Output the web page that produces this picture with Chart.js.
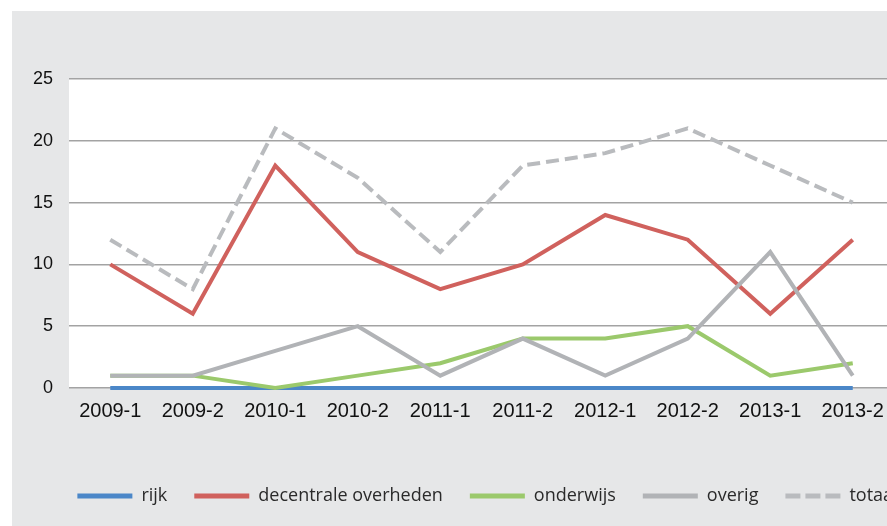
<!DOCTYPE html>
<html>
<head>
<meta charset="utf-8">
<script src="https://cdn.jsdelivr.net/npm/chart.js@4/dist/chart.umd.min.js"></script>
<style>
  body { margin: 0; background: #fff; overflow: hidden; }
  #wrap { position: absolute; left: 12px; top: 11px; width: 950px; height: 520px; background: #e6e7e8; }
  canvas { display: block; }
</style>
</head>
<body>
<div id="wrap"><canvas id="grafiek" width="950" height="515"></canvas></div>
<script>
const categories = ['2009-1', '2009-2', '2010-1', '2010-2', '2011-1', '2011-2', '2012-1', '2012-2', '2013-1', '2013-2'];
const rijk = [0, 0, 0, 0, 0, 0, 0, 0, 0, 0];
const decentraleOverheden = [10, 6, 18, 11, 8, 10, 14, 12, 6, 12];
const onderwijs = [1, 1, 0, 1, 2, 4, 4, 5, 1, 2];
const overig = [1, 1, 3, 5, 1, 4, 1, 4, 11, 1];
const totaal = [12, 8, 21, 17, 11, 18, 19, 21, 18, 15];
const yTicks = [0, 5, 10, 15, 20, 25];

// witte achtergrond voor het plotgebied
const plotBackground = {
    id: 'plotBackground',
    beforeDraw(chart) {
        const { ctx, chartArea } = chart;
        ctx.save();
        ctx.fillStyle = '#ffffff';
        ctx.fillRect(chartArea.left, chartArea.top, chartArea.right - chartArea.left, chartArea.bottom - chartArea.top);
        ctx.restore();
    }
};

// legenda iets naar rechts, zoals in het origineel
const legendShift = {
    id: 'legendShift',
    afterLayout(chart) {
        chart.legend.left += 32;
        chart.legend.right += 32;
    }
};

const line = (label, data, color, order, dash) => ({
    label, data, order,
    borderColor: color,
    backgroundColor: color,
    borderWidth: 4,
    borderDash: dash || [],
    pointRadius: 0,
    tension: 0,
    fill: false,
    clip: false
});

new Chart(document.getElementById('grafiek'), {
    type: 'line',
    data: {
        labels: categories,
        datasets: [
            line('rijk', rijk, '#4b87c8', 5),
            line('decentrale overheden', decentraleOverheden, '#d0615d', 4),
            line('onderwijs', onderwijs, '#9bc96c', 3),
            line('overig', overig, '#b1b3b6', 2),
            line('totaal', totaal, '#b9bbbe', 1, [13, 6])
        ]
    },
    options: {
        responsive: false,
        animation: false,
        layout: { padding: { top: 68, left: 5, right: 68, bottom: 11 } },
        plugins: {
            tooltip: { enabled: false },
            legend: {
                position: 'bottom',
                labels: {
                    usePointStyle: true,
                    pointStyle: 'line',
                    pointStyleWidth: 55,
                    boxHeight: 18,
                    padding: 27,
                    color: '#2a2a2a',
                    font: { family: "'Open Sans', sans-serif", size: 18 },
                    sort: (a, b) => a.datasetIndex - b.datasetIndex,
                    generateLabels(chart) {
                        const items = Chart.defaults.plugins.legend.labels.generateLabels(chart);
                        items.forEach(item => {
                            const ds = chart.data.datasets[item.datasetIndex];
                            item.lineWidth = 5;
                            item.lineDash = ds.borderDash.length ? [15, 5] : [];
                        });
                        return items;
                    }
                }
            }
        },
        scales: {
            x: {
                offset: true,
                grid: { display: false, drawTicks: false },
                border: { display: false },
                ticks: {
                    padding: 11,
                    color: '#111',
                    maxRotation: 0,
                    font: { family: "'Liberation Sans', Arial, sans-serif", size: 20 }
                },
                afterFit(scale) { scale.height += 26; }
            },
            y: {
                min: 0,
                max: 25,
                afterBuildTicks(scale) { scale.ticks = yTicks.map(v => ({ value: v })); },
                grid: { color: '#a3a3a3', lineWidth: 1.5, drawTicks: false },
                border: { display: false },
                ticks: {
                    padding: 16,
                    color: '#111',
                    font: { family: "'Liberation Sans', Arial, sans-serif", size: 18 }
                }
            }
        }
    },
    plugins: [plotBackground, legendShift]
});
</script>
</body>
</html>
